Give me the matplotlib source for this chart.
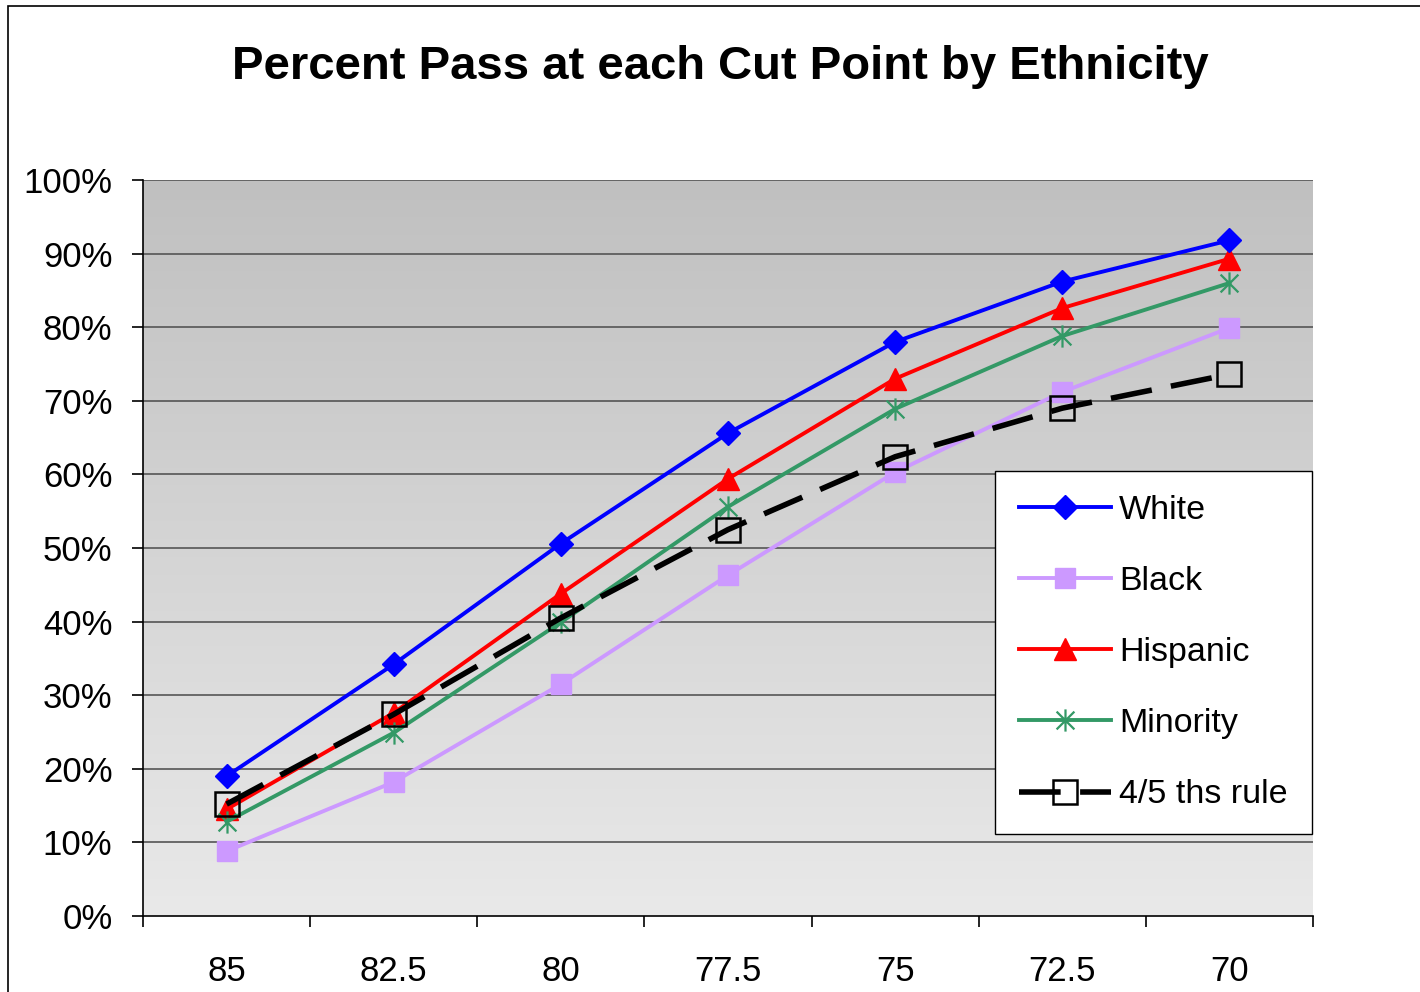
import numpy as np
import matplotlib
matplotlib.use("Agg")
import matplotlib.pyplot as plt
from matplotlib.path import Path
from matplotlib.patches import Rectangle
from matplotlib.colors import LinearSegmentedColormap

plt.rcParams['font.family'] = ['Liberation Sans', 'DejaVu Sans']
plt.rcParams['lines.scale_dashes'] = False

cut_points = ["85", "82.5", "80", "77.5", "75", "72.5", "70"]
white = [19.0, 34.2, 50.6, 65.6, 78.0, 86.2, 91.8]
black = [8.8, 18.2, 31.5, 46.3, 60.3, 71.2, 79.9]
hispanic = [14.5, 27.6, 43.8, 59.4, 73.0, 82.6, 89.3]
minority = [12.8, 24.9, 39.9, 55.6, 68.9, 78.8, 86.0]
rule_45 = [15.2, 27.4, 40.5, 52.5, 62.4, 69.0, 73.6]

# asterisk marker: vertical bar plus an X
star = Path([(0, -1), (0, 1), (-0.8, -0.8), (0.8, 0.8), (-0.8, 0.8), (0.8, -0.8)],
            [Path.MOVETO, Path.LINETO, Path.MOVETO, Path.LINETO, Path.MOVETO, Path.LINETO])

W, H = 1420, 992
fig = plt.figure(figsize=(W / 100, H / 100), dpi=100)
fig.patch.set_facecolor("white")
fig.patches.append(Rectangle((8 / W, -0.1), 1.2, 1 - 6 / H + 0.1, transform=fig.transFigure,
                             fill=False, edgecolor="black", linewidth=1.2))

ax = fig.add_axes([143 / W, 1 - 916 / H, (1313 - 143) / W, (916 - 180) / H])
x = np.arange(len(cut_points))

# gradient background, light at the bottom, darker at the top
grad = np.linspace(0, 1, 256).reshape(-1, 1)
ax.imshow(grad, cmap=LinearSegmentedColormap.from_list("g", ["#e9e9e9", "#c0c0c0"]),
          aspect="auto", origin="lower", extent=[-0.5, 6.5, 0, 100], zorder=0)

for yv in range(10, 101, 10):
    ax.axhline(yv, color="#555555", linewidth=1.2, zorder=1)

ax.plot(x, white, color="#0000ff", linewidth=2.8, marker="D", markersize=12,
        label="White", zorder=5)
ax.plot(x, black, color="#cc99ff", linewidth=2.8, marker="s", markersize=15,
        label="Black", zorder=3)
ax.plot(x, hispanic, color="#ff0000", linewidth=2.8, marker="^", markersize=16,
        label="Hispanic", zorder=4)
ax.plot(x, minority, color="#339966", linewidth=2.8, marker=star, markersize=16,
        markeredgewidth=1.6, label="Minority", zorder=4)
ax.plot(x, rule_45, color="black", linewidth=4, dashes=(30, 14), marker="s",
        markersize=17, markerfacecolor="none", markeredgecolor="black",
        markeredgewidth=1.8, label="4/5 ths rule", zorder=6)

ax.set_xlim(-0.5, 6.5)
ax.set_ylim(0, 100)
ax.set_yticks(range(0, 101, 10))
ax.set_yticklabels([f"{v}%" for v in range(0, 101, 10)], fontsize=25)
ax.set_xticks(x)
ax.set_xticklabels(cut_points, fontsize=25)
ax.set_xticks(np.arange(-0.5, 7, 1), minor=True)
ax.tick_params(axis="x", which="major", length=0, pad=28)
ax.tick_params(axis="x", which="minor", length=8, width=1.2, direction="out")
ax.tick_params(axis="y", length=8, width=1.2, pad=14)
for s in ["top", "right"]:
    ax.spines[s].set_visible(False)
for s in ["left", "bottom"]:
    ax.spines[s].set_linewidth(1.2)
    ax.spines[s].set_zorder(7)

fig.text(720 / W, 1 - 67 / H, "Percent Pass at each Cut Point by Ethnicity",
         fontsize=34, fontweight="bold", ha="center", va="center")

leg = ax.legend(loc="upper left", bbox_to_anchor=(995 / W, 1 - 471 / H),
                bbox_transform=fig.transFigure, borderaxespad=0, fontsize=24.5,
                handlelength=2.7, labelspacing=1.18, handletextpad=0.25,
                borderpad=0.7, frameon=True, fancybox=False)
leg.get_frame().set_edgecolor("black")
leg.get_frame().set_linewidth(1.0)
leg.get_frame().set_alpha(1)

fig.savefig("out.png", dpi=100)
